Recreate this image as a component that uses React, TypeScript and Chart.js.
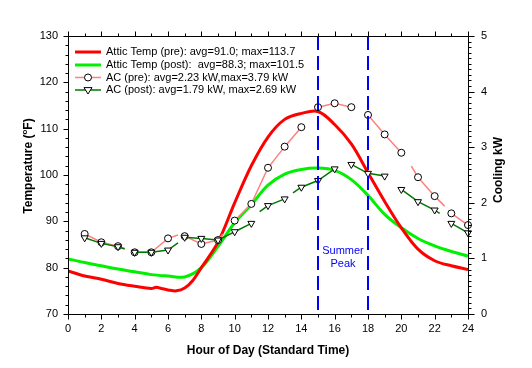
import React, { useEffect, useRef } from "react";
import { Chart, registerables } from "chart.js";

Chart.register(...registerables);

// ---- Data ----
const atticPreHours = [0, 1, 2, 3, 4, 5, 5.3, 5.6, 6, 6.5, 7, 7.5, 8, 9, 10, 11, 12, 13, 14, 15, 16, 17, 18, 19, 20, 21, 22, 23, 24];
const atticPreTemps = [79.3, 78.2, 77.5, 76.6, 76.0, 75.5, 75.8, 75.5, 75.2, 75.0, 75.6, 77.3, 80.0, 85.5, 94.0, 102.0, 108.2, 112.0, 113.3, 113.7, 110.9, 106.7, 100.5, 94.3, 88.6, 84.0, 81.5, 80.4, 79.6];

const atticPostHours = [0, 1, 2, 3, 4, 5, 6, 7, 8, 9, 10, 11, 12, 13, 14, 15, 16, 17, 18, 19, 20, 21, 22, 23, 24];
const atticPostTemps = [81.9, 81.1, 80.4, 79.7, 79.1, 78.5, 78.2, 78.0, 80.0, 84.6, 89.7, 93.6, 97.8, 100.2, 101.2, 101.5, 101.0, 99.0, 95.6, 91.5, 88.6, 86.3, 84.7, 83.5, 82.5];

const acHours = [1, 2, 3, 4, 5, 6, 7, 8, 9, 10, 11, 12, 13, 14, 15, 16, 17, 18, 19, 20, 21, 22, 23, 24];
const acPreKW = [1.44, 1.29, 1.22, 1.11, 1.11, 1.36, 1.40, 1.26, 1.33, 1.68, 1.98, 2.63, 3.01, 3.36, 3.72, 3.79, 3.72, 3.58, 3.23, 2.90, 2.46, 2.12, 1.81, 1.60];
const acPostKW = [1.37, 1.27, 1.21, 1.11, 1.11, 1.15, 1.38, 1.36, 1.33, 1.48, 1.63, 1.95, 2.07, 2.28, 2.40, 2.61, 2.69, 2.53, 2.48, 2.24, 2.02, 1.87, 1.63, 1.46];

// segment ends / starts between hourly markers, and where the line breaks
const acPreStubs: [number, number][] = [[3.4, 1.18], [6.6, 1.42], [9.3, 1.44], [20.6, 2.66], [22.6, 1.94]];
const acPreGaps = [3.7, 6.8, 9.6, 14.5, 17.5, 20.3, 22.8];
const acPostStubs: [number, number][] = [[3.4, 1.17], [6.6, 1.28], [11.5, 1.84], [13.5, 2.18], [22.3, 1.81]];
const acPostGaps = [3.7, 6.8, 11.3, 13.3, 16.5, 19.5, 22.6];

const peakStart = 15;
const peakEnd = 18;

const legendLabels = [
  "Attic Temp (pre): avg=91.0; max=113.7",
  "Attic Temp (post):  avg=88.3; max=101.5",
  "AC (pre): avg=2.23 kW,max=3.79 kW",
  "AC (post): avg=1.79 kW, max=2.69 kW",
];

const xTitle = "Hour of Day (Standard Time)";
const y2Title = "Cooling kW";

const RED = "#ff0000";
const GREEN = "#00f000";
const PINK = "#ff8080";
const DKGREEN = "#007800";
const BLUE = "#0000ff";
const FONT = "Arial, 'Liberation Sans', sans-serif";

function buildAC(values: number[], stubs: [number, number][], gaps: number[]) {
  const pts: { x: number; y: number | null }[] = acHours.map((h, i) => ({ x: h, y: values[i] }));
  stubs.forEach(([x, y]) => pts.push({ x, y }));
  gaps.forEach((x) => pts.push({ x, y: null }));
  pts.sort((a, b) => a.x - b.x);
  return pts;
}

function drawTriangleDown(ctx: CanvasRenderingContext2D, x: number, y: number, r: number) {
  ctx.beginPath();
  ctx.moveTo(x - r, y - r * 0.6);
  ctx.lineTo(x + r, y - r * 0.6);
  ctx.lineTo(x, y + r);
  ctx.closePath();
  ctx.fillStyle = "#fff";
  ctx.fill();
  ctx.strokeStyle = "#000";
  ctx.lineWidth = 1;
  ctx.stroke();
}

const decoPlugin = {
  id: "deco",
  afterDatasetsDraw(chart: any) {
    const ctx: CanvasRenderingContext2D = chart.ctx;
    const { top, bottom } = chart.chartArea;
    const xs = chart.scales.x;
    ctx.save();
    ctx.strokeStyle = BLUE;
    ctx.lineWidth = 2;
    ctx.setLineDash([14, 6]);
    [peakStart, peakEnd].forEach((h) => {
      const px = Math.round(xs.getPixelForValue(h));
      ctx.beginPath();
      ctx.moveTo(px, top);
      ctx.lineTo(px, bottom);
      ctx.stroke();
    });
    ctx.setLineDash([]);
    ctx.fillStyle = BLUE;
    ctx.font = `11px ${FONT}`;
    ctx.textAlign = "center";
    ctx.textBaseline = "middle";
    const cx = xs.getPixelForValue((peakStart + peakEnd) / 2);
    ctx.fillText("Summer", cx, 251);
    ctx.fillText("Peak", cx, 264);
    ctx.restore();
  },
  afterDraw(chart: any) {
    const ctx: CanvasRenderingContext2D = chart.ctx;
    const { left, right, top, bottom } = chart.chartArea;
    const xs = chart.scales.x;
    const ys = chart.scales.y;
    const y2 = chart.scales.y2;
    ctx.save();
    ctx.strokeStyle = "#000";
    ctx.lineWidth = 1;
    ctx.beginPath();
    const L = Math.round(left) + 0.5;
    const R = Math.round(right) + 0.5;
    const T = Math.round(top) + 0.5;
    const B = Math.round(bottom) + 0.5;
    ctx.moveTo(L, T);
    ctx.lineTo(R, T);
    ctx.lineTo(R, B);
    ctx.lineTo(L, B);
    ctx.closePath();
    // x ticks (bottom and top)
    for (let h = 0; h <= 24; h++) {
      const px = Math.round(xs.getPixelForValue(h)) + 0.5;
      const len = h % 2 === 0 ? 5 : 3;
      ctx.moveTo(px, B);
      ctx.lineTo(px, B + len);
      ctx.moveTo(px, T);
      ctx.lineTo(px, T - len);
    }
    // left ticks
    for (let t = 70; t <= 130; t += 2) {
      const py = Math.round(ys.getPixelForValue(t)) + 0.5;
      const len = t % 10 === 0 ? 5 : 3;
      ctx.moveTo(L, py);
      ctx.lineTo(L - len, py);
    }
    // right ticks
    for (let k = 0; k <= 50; k++) {
      const py = Math.round(y2.getPixelForValue(k / 10)) + 0.5;
      const len = k % 10 === 0 ? 6 : 3;
      ctx.moveTo(R, py);
      ctx.lineTo(R + len, py);
    }
    ctx.stroke();

    // axis titles
    ctx.fillStyle = "#000";
    ctx.textBaseline = "middle";
    ctx.textAlign = "center";
    ctx.font = `bold 12px ${FONT}`;
    ctx.fillText(xTitle, (left + right) / 2, 351);

    // left title with superscript
    ctx.save();
    ctx.translate(29, 166);
    ctx.rotate(-Math.PI / 2);
    const p1 = "Temperature (";
    const p2 = "o";
    const p3 = "F)";
    ctx.font = `bold 12px ${FONT}`;
    const w1 = ctx.measureText(p1).width;
    const w3 = ctx.measureText(p3).width;
    ctx.font = `bold 8px ${FONT}`;
    const w2 = ctx.measureText(p2).width;
    const total = w1 + w2 + w3;
    const x0 = -total / 2;
    ctx.textAlign = "left";
    ctx.font = `bold 12px ${FONT}`;
    ctx.fillText(p1, x0, 0);
    ctx.font = `bold 8px ${FONT}`;
    ctx.fillText(p2, x0 + w1, -4);
    ctx.font = `bold 12px ${FONT}`;
    ctx.fillText(p3, x0 + w1 + w2, 0);
    ctx.restore();

    ctx.save();
    ctx.translate(499, 170);
    ctx.rotate(-Math.PI / 2);
    ctx.textAlign = "center";
    ctx.font = `bold 12px ${FONT}`;
    ctx.fillText(y2Title, 0, 0);
    ctx.restore();

    // legend
    const rows = [52, 65, 77.5, 90];
    const sx1 = 75;
    const sx2 = 101;
    const colors = [RED, GREEN, PINK, DKGREEN];
    const widths = [3, 3, 1.5, 1.5];
    rows.forEach((ry, i) => {
      ctx.strokeStyle = colors[i];
      ctx.lineWidth = widths[i];
      ctx.beginPath();
      ctx.moveTo(sx1, ry);
      ctx.lineTo(sx2, ry);
      ctx.stroke();
      const mx = (sx1 + sx2) / 2;
      if (i === 2) {
        ctx.beginPath();
        ctx.arc(mx, ry, 3.5, 0, Math.PI * 2);
        ctx.fillStyle = "#fff";
        ctx.fill();
        ctx.strokeStyle = "#000";
        ctx.lineWidth = 1;
        ctx.stroke();
      } else if (i === 3) {
        drawTriangleDown(ctx, mx, ry, 4);
      }
      ctx.fillStyle = "#000";
      ctx.font = `11px ${FONT}`;
      ctx.textAlign = "left";
      ctx.textBaseline = "middle";
      ctx.fillText(legendLabels[i], 106, ry);
    });
    ctx.restore();
  },
};

export default function App() {
  const ref = useRef<HTMLCanvasElement | null>(null);

  useEffect(() => {
    if (!ref.current) return;
    const markerRadius = (r: number) => (c: any) => {
      const raw = c.raw;
      return raw && raw.y != null && Number.isInteger(raw.x) ? r : 0;
    };
    const chart = new Chart(ref.current, {
      type: "line",
      data: {
        datasets: [
          {
            label: "AC (post)",
            data: buildAC(acPostKW, acPostStubs, acPostGaps),
            yAxisID: "y2",
            borderColor: DKGREEN,
            borderWidth: 1.5,
            pointStyle: "triangle",
            rotation: 180,
            pointRadius: markerRadius(4),
            pointBackgroundColor: "#fff",
            pointBorderColor: "#000",
            pointBorderWidth: 1,
            spanGaps: false,
            tension: 0,
            clip: false,
            order: 0,
          } as any,
          {
            label: "AC (pre)",
            data: buildAC(acPreKW, acPreStubs, acPreGaps),
            yAxisID: "y2",
            borderColor: PINK,
            borderWidth: 1.5,
            pointStyle: "circle",
            pointRadius: markerRadius(3.5),
            pointBackgroundColor: "#fff",
            pointBorderColor: "#000",
            pointBorderWidth: 1,
            spanGaps: false,
            tension: 0,
            clip: false,
            order: 1,
          } as any,
          {
            label: "Attic Temp (pre)",
            data: atticPreHours.map((h, i) => ({ x: h, y: atticPreTemps[i] })),
            yAxisID: "y",
            borderColor: RED,
            borderWidth: 3,
            pointRadius: 0,
            tension: 0.35,
            order: 2,
          } as any,
          {
            label: "Attic Temp (post)",
            data: atticPostHours.map((h, i) => ({ x: h, y: atticPostTemps[i] })),
            yAxisID: "y",
            borderColor: GREEN,
            borderWidth: 3,
            pointRadius: 0,
            tension: 0.35,
            order: 3,
          } as any,
        ],
      },
      options: {
        responsive: false,
        animation: false,
        events: [],
        layout: { padding: { top: 36, left: 0, right: 0, bottom: 0 } },
        plugins: {
          legend: { display: false },
          tooltip: { enabled: false },
          title: { display: false },
        },
        scales: {
          x: {
            type: "linear",
            position: "bottom",
            min: 0,
            max: 24,
            grid: { display: false, drawTicks: false },
            border: { display: false },
            ticks: { stepSize: 2, color: "#000", font: { family: FONT, size: 11 }, padding: 8, maxRotation: 0 },
            afterFit: (s: any) => {
              s.height = 54;
            },
          },
          y: {
            type: "linear",
            position: "left",
            min: 70,
            max: 130,
            grid: { display: false, drawTicks: false },
            border: { display: false },
            ticks: { stepSize: 10, color: "#000", font: { family: FONT, size: 11 }, padding: 10 },
            afterFit: (s: any) => {
              s.width = 68;
            },
          },
          y2: {
            type: "linear",
            position: "right",
            min: 0,
            max: 5,
            grid: { display: false, drawTicks: false },
            border: { display: false },
            ticks: { stepSize: 1, color: "#000", font: { family: FONT, size: 11 }, padding: 13 },
            afterFit: (s: any) => {
              s.width = 64;
            },
          },
        },
      } as any,
      plugins: [decoPlugin],
    });
    return () => chart.destroy();
  }, []);

  return (
    <div style={{ position: "absolute", left: 0, top: 0, width: 532, height: 368, background: "#fff" }}>
      <canvas ref={ref} width={532} height={368} style={{ width: 532, height: 368, display: "block" }} />
    </div>
  );
}
